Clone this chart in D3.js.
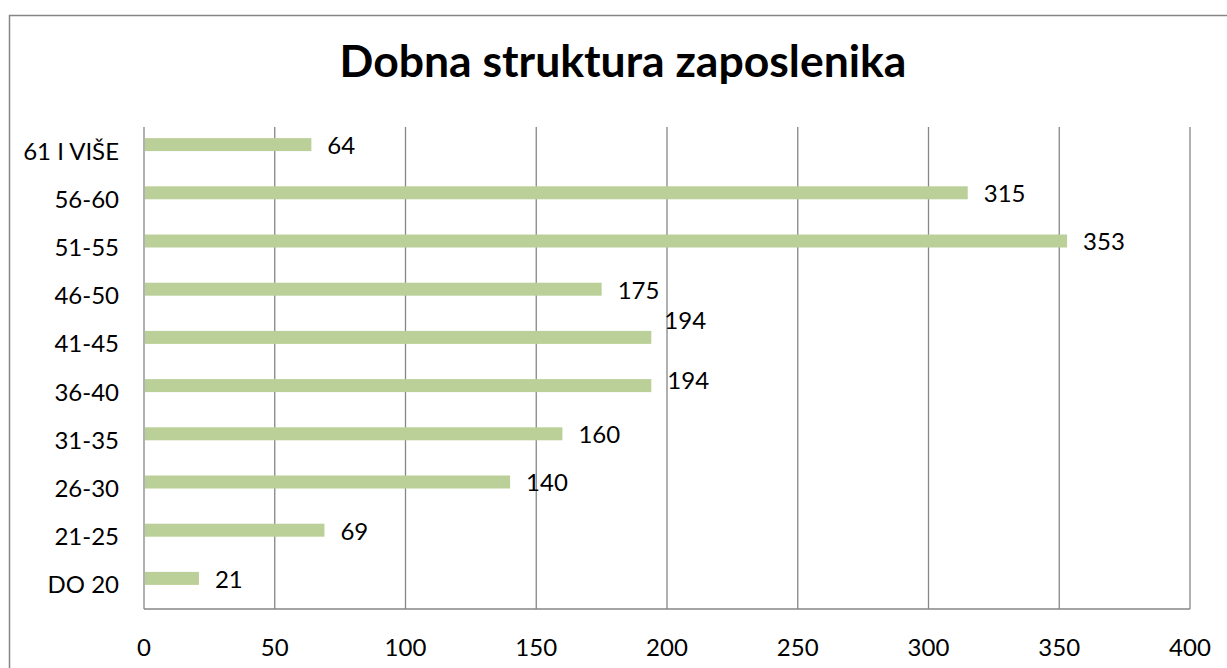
<!DOCTYPE html>
<html>
<head>
<meta charset="utf-8">
<script src="https://cdn.jsdelivr.net/npm/d3@7"></script>
<style>
    body { margin: 0; background: #fff; }
    svg { display: block; font-family: Lato, "Open Sans", sans-serif; }
</style>
</head>
<body>
<svg id="chart" width="1227" height="668"></svg>
<script>
// age groups, bottom to top as in the sheet
const categories = ["DO 20", "21-25", "26-30", "31-35", "36-40", "41-45", "46-50", "51-55", "56-60", "61 I VIŠE"];
const employees = [21, 69, 140, 160, 194, 194, 175, 353, 315, 64];
const xTicks = [0, 50, 100, 150, 200, 250, 300, 350, 400];
const title = "Dobna struktura zaposlenika";

// a couple of labels were dragged by hand in the original
const labelNudge = { "41-45": [-3, -18], "36-40": [0, -6] };

const svg = d3.select("#chart");
const plot = { left: 144, right: 1190, top: 127, bottom: 609 };
const grey = "#868686";
const fontSize = 24;

// outer chart frame (runs off the right and bottom of the picture)
svg.append("rect")
    .attr("x", 9.5).attr("y", 15.5)
    .attr("width", 1240).attr("height", 680)
    .attr("fill", "none")
    .attr("stroke", grey)
    .attr("stroke-width", 1.5);

svg.append("text")
    .attr("x", 623)
    .attr("y", 77)
    .attr("text-anchor", "middle")
    .attr("font-size", 44.5)
    .attr("font-weight", "bold")
    .attr("fill", "#000")
    .text(title);

const x = d3.scaleLinear()
    .domain([0, 400])
    .range([plot.left, plot.right]);

const y = d3.scaleBand()
    .domain(categories.slice().reverse())
    .range([plot.top, plot.bottom]);

// vertical gridlines
svg.append("g")
    .selectAll("line")
    .data(xTicks)
    .join("line")
    .attr("x1", d => x(d)).attr("x2", d => x(d))
    .attr("y1", plot.top).attr("y2", plot.bottom)
    .attr("stroke", grey)
    .attr("stroke-width", 1.3);

// baseline
svg.append("line")
    .attr("x1", plot.left).attr("x2", plot.right)
    .attr("y1", plot.bottom).attr("y2", plot.bottom)
    .attr("stroke", grey)
    .attr("stroke-width", 1.3);

// x tick labels
svg.append("g")
    .selectAll("text")
    .data(xTicks)
    .join("text")
    .attr("x", d => x(d))
    .attr("y", 656)
    .attr("text-anchor", "middle")
    .attr("font-size", fontSize)
    .text(d => d);

// category labels
svg.append("g")
    .selectAll("text")
    .data(categories)
    .join("text")
    .attr("x", 119)
    .attr("y", d => y(d) + y.bandwidth() / 2)
    .attr("dy", "0.35em")
    .attr("text-anchor", "end")
    .attr("font-size", fontSize)
    .text(d => d);

const barH = 13;
const rows = categories.map((c, i) => ({ cat: c, val: employees[i] }));

// bars sit just above the band centre
svg.append("g")
    .selectAll("rect")
    .data(rows)
    .join("rect")
    .attr("x", x(0) + 1)
    .attr("y", d => y(d.cat) + y.bandwidth() / 2 - barH)
    .attr("width", d => x(d.val) - x(0) - 1)
    .attr("height", barH)
    .attr("fill", "#bbd098");

// value labels
svg.append("g")
    .selectAll("text")
    .data(rows)
    .join("text")
    .attr("x", d => x(d.val) + 16 + (labelNudge[d.cat] ? labelNudge[d.cat][0] : 0))
    .attr("y", d => y(d.cat) + y.bandwidth() / 2 - barH / 2 + 1 + (labelNudge[d.cat] ? labelNudge[d.cat][1] : 0))
    .attr("dy", "0.35em")
    .attr("font-size", fontSize)
    .text(d => d.val);
</script>
</body>
</html>
